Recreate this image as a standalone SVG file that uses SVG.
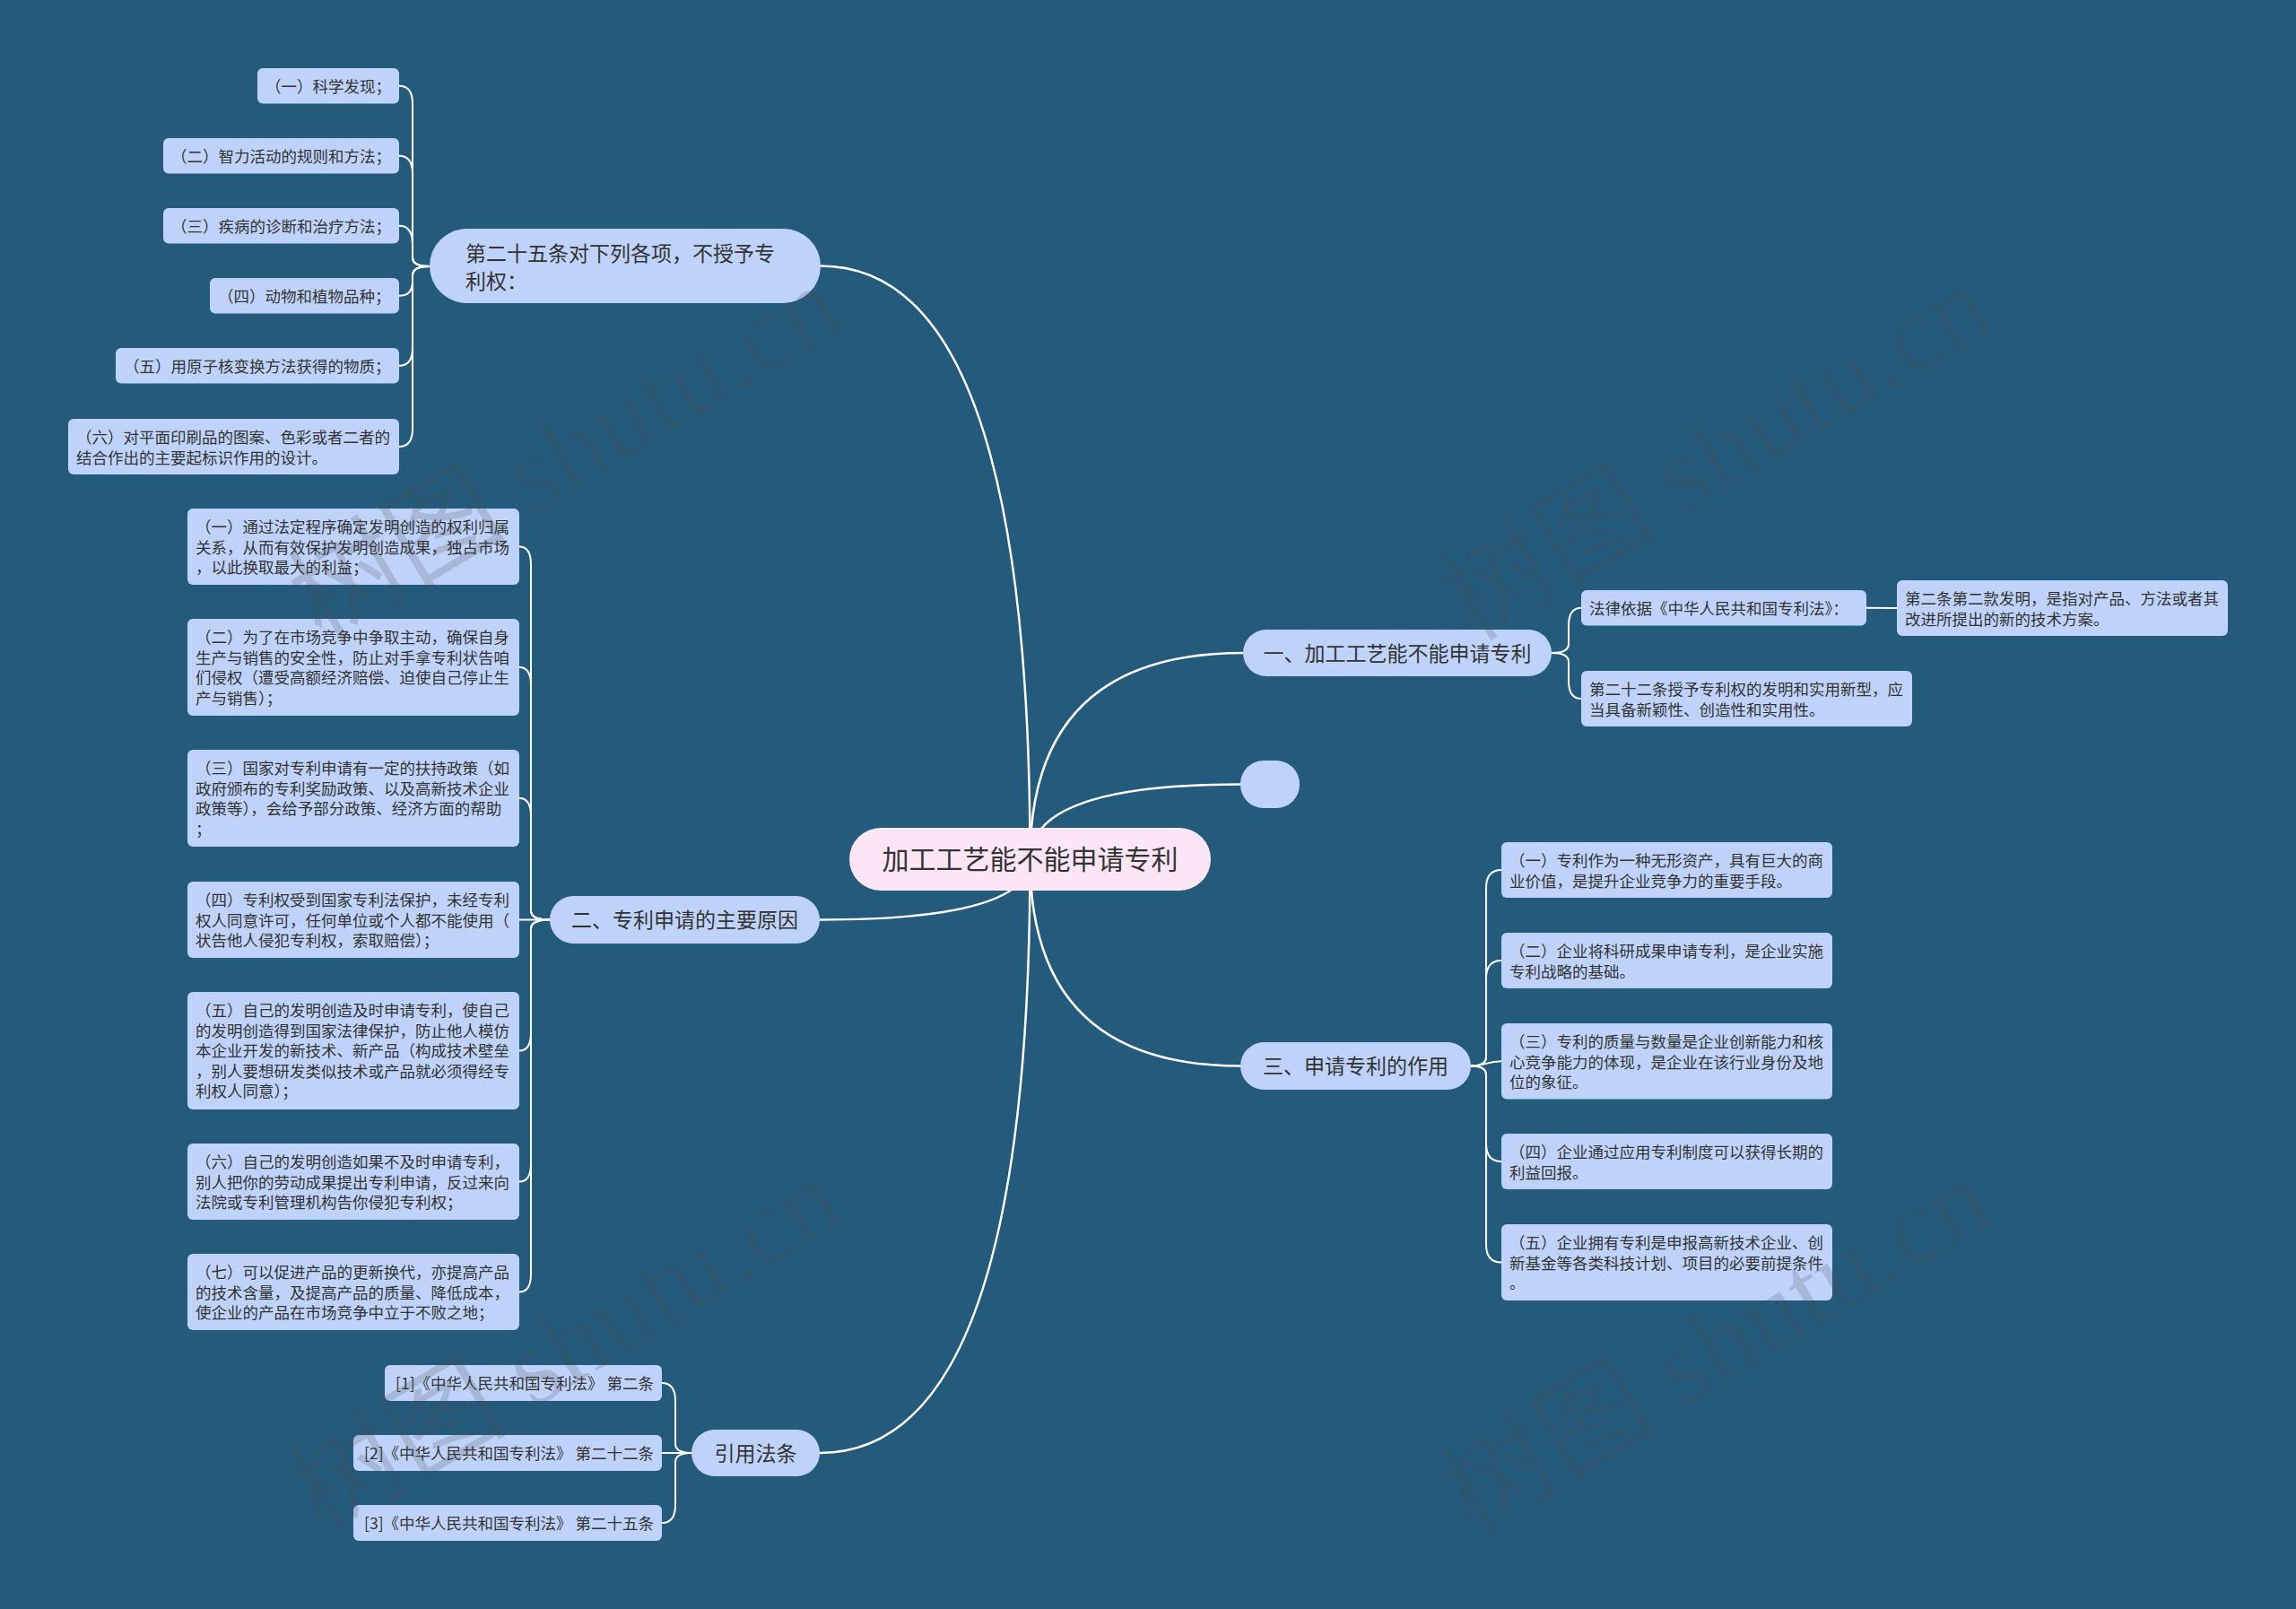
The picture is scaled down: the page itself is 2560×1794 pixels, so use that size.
<svg xmlns="http://www.w3.org/2000/svg" width="2560" height="1794" viewBox="0 0 2560 1794">
<style>
.bg{fill:#245a7c}
.n{fill:#bfd3fa}
.r{fill:#fce6f6}
.t{font-family:"Noto Sans CJK SC","Noto Sans",sans-serif;fill:#333}
.s{font-size:17.5px}
.m{font-size:23px}
.big{font-size:30px}
.e{fill:none;stroke:#fff;stroke-width:2}
.me{fill:none;stroke:#fff;stroke-width:2.5}
.wm{font-family:"Liberation Serif","Noto Sans CJK SC",serif;font-size:122px;fill:#4a4a4a;fill-opacity:0.2}
</style>
<rect class="bg" x="0" y="0" width="2560" height="1794"/>
<g id="connectors">
<path class="me" d="M1148.5,958 Q1148.5,296.5 915,296.5"/>
<path class="me" d="M1148.5,958 Q1148.5,1025.5 914,1025.5"/>
<path class="me" d="M1148.5,958 Q1148.5,1620 914,1620"/>
<path class="me" d="M1148.5,958 Q1148.5,728 1386,728"/>
<path class="me" d="M1148.5,958 Q1148.5,874.5 1383,874.5"/>
<path class="me" d="M1148.5,958 Q1148.5,1188.5 1383,1188.5"/>
<path class="e" d="M479,297 Q460,297 460,287 L460,115.75 Q460,95.75 445,95.75"/>
<path class="e" d="M479,297 Q460,297 460,287 L460,193.75 Q460,173.75 445,173.75"/>
<path class="e" d="M479,297 Q460,297 460,287 L460,271.75 Q460,251.75 445,251.75"/>
<path class="e" d="M479,297 Q460,297 460,307 L460,313.4 Q460,329.75 445,329.75"/>
<path class="e" d="M479,297 Q460,297 460,307 L460,387.75 Q460,407.75 445,407.75"/>
<path class="e" d="M479,297 Q460,297 460,307 L460,478 Q460,498 445,498"/>
<path class="e" d="M613,1025.5 Q592,1025.5 592,1015.5 L592,629.5 Q592,609.5 579,609.5"/>
<path class="e" d="M613,1025.5 Q592,1025.5 592,1015.5 L592,764 Q592,744 579,744"/>
<path class="e" d="M613,1025.5 Q592,1025.5 592,1015.5 L592,910 Q592,890 579,890"/>
<path class="e" d="M613,1025.5 L579,1025.5"/>
<path class="e" d="M613,1025.5 Q592,1025.5 592,1035.5 L592,1151.5 Q592,1171.5 579,1171.5"/>
<path class="e" d="M613,1025.5 Q592,1025.5 592,1035.5 L592,1297.5 Q592,1317.5 579,1317.5"/>
<path class="e" d="M613,1025.5 Q592,1025.5 592,1035.5 L592,1420.5 Q592,1440.5 579,1440.5"/>
<path class="e" d="M771,1620 Q753,1620 753,1610 L753,1562 Q753,1542 738,1542"/>
<path class="e" d="M771,1620 L738,1620"/>
<path class="e" d="M771,1620 Q753,1620 753,1630 L753,1678 Q753,1698 738,1698"/>
<path class="e" d="M1730,728 Q1749,728 1749,718 L1749,697.75 Q1749,677.75 1763,677.75"/>
<path class="e" d="M1730,728 Q1749,728 1749,738 L1749,759 Q1749,779 1763,779"/>
<path class="e" d="M2081,677.75 L2115,678"/>
<path class="e" d="M1640,1188.5 Q1657,1188.5 1657,1178.5 L1657,990 Q1657,970 1674,970"/>
<path class="e" d="M1640,1188.5 Q1657,1188.5 1657,1178.5 L1657,1091 Q1657,1071 1674,1071"/>
<path class="e" d="M1640,1188.5 C1657,1188.5 1657,1183.25 1674,1183.25"/>
<path class="e" d="M1640,1188.5 Q1657,1188.5 1657,1198.5 L1657,1275 Q1657,1295 1674,1295"/>
<path class="e" d="M1640,1188.5 Q1657,1188.5 1657,1198.5 L1657,1387.5 Q1657,1407.5 1674,1407.5"/>
</g>
<g id="root"><rect class="r" x="947" y="923" width="403" height="70" rx="35"/><text class="t big" x="1148.5" y="969.4" text-anchor="middle">加工工艺能不能申请专利</text></g>
<g id="nA"><rect class="n" x="479" y="255" width="436" height="83" rx="41.5"/><text class="t m" x="519" y="290.7">第二十五条对下列各项，不授予专<tspan x="519" y="321.7">利权：</tspan></text></g>
<g id="nA1"><rect class="n" x="287" y="76" width="158" height="39.5" rx="6"/><text class="t s" x="296" y="103.4">（一）科学发现；</text></g>
<g id="nA2"><rect class="n" x="182" y="154" width="263" height="39.5" rx="6"/><text class="t s" x="191" y="181.4">（二）智力活动的规则和方法；</text></g>
<g id="nA3"><rect class="n" x="182" y="232" width="263" height="39.5" rx="6"/><text class="t s" x="191" y="259.4">（三）疾病的诊断和治疗方法；</text></g>
<g id="nA4"><rect class="n" x="234" y="310" width="211" height="39.5" rx="6"/><text class="t s" x="243" y="337.4">（四）动物和植物品种；</text></g>
<g id="nA5"><rect class="n" x="129" y="388" width="316" height="39.5" rx="6"/><text class="t s" x="138" y="415.4">（五）用原子核变换方法获得的物质；</text></g>
<g id="nA6"><rect class="n" x="76" y="467" width="369" height="62" rx="6"/><text class="t s" x="85" y="494.4">（六）对平面印刷品的图案、色彩或者二者的<tspan x="85" y="516.9">结合作出的主要起标识作用的设计。</tspan></text></g>
<g id="nB"><rect class="n" x="613" y="999" width="301" height="53" rx="26.5"/><text class="t m" x="763.5" y="1034.2" text-anchor="middle">二、专利申请的主要原因</text></g>
<g id="nB1"><rect class="n" x="209" y="567" width="370" height="85" rx="6"/><text class="t s" x="218" y="594.4">（一）通过法定程序确定发明创造的权利归属<tspan x="218" y="616.9">关系，从而有效保护发明创造成果，独占市场</tspan><tspan x="218" y="639.4">，以此换取最大的利益；</tspan></text></g>
<g id="nB2"><rect class="n" x="209" y="690" width="370" height="108" rx="6"/><text class="t s" x="218" y="717.4">（二）为了在市场竞争中争取主动，确保自身<tspan x="218" y="739.9">生产与销售的安全性，防止对手拿专利状告咱</tspan><tspan x="218" y="762.4">们侵权（遭受高额经济赔偿、迫使自己停止生</tspan><tspan x="218" y="784.9">产与销售）；</tspan></text></g>
<g id="nB3"><rect class="n" x="209" y="836" width="370" height="108" rx="6"/><text class="t s" x="218" y="863.4">（三）国家对专利申请有一定的扶持政策（如<tspan x="218" y="885.9">政府颁布的专利奖励政策、以及高新技术企业</tspan><tspan x="218" y="908.4">政策等），会给予部分政策、经济方面的帮助</tspan><tspan x="218" y="930.9">；</tspan></text></g>
<g id="nB4"><rect class="n" x="209" y="983" width="370" height="85" rx="6"/><text class="t s" x="218" y="1010.4">（四）专利权受到国家专利法保护，未经专利<tspan x="218" y="1032.9">权人同意许可，任何单位或个人都不能使用（</tspan><tspan x="218" y="1055.4">状告他人侵犯专利权，索取赔偿）；</tspan></text></g>
<g id="nB5"><rect class="n" x="209" y="1106" width="370" height="131" rx="6"/><text class="t s" x="218" y="1133.4">（五）自己的发明创造及时申请专利，使自己<tspan x="218" y="1155.9">的发明创造得到国家法律保护，防止他人模仿</tspan><tspan x="218" y="1178.4">本企业开发的新技术、新产品（构成技术壁垒</tspan><tspan x="218" y="1200.9">，别人要想研发类似技术或产品就必须得经专</tspan><tspan x="218" y="1223.4">利权人同意）；</tspan></text></g>
<g id="nB6"><rect class="n" x="209" y="1275" width="370" height="85" rx="6"/><text class="t s" x="218" y="1302.4">（六）自己的发明创造如果不及时申请专利，<tspan x="218" y="1324.9">别人把你的劳动成果提出专利申请，反过来向</tspan><tspan x="218" y="1347.4">法院或专利管理机构告你侵犯专利权；</tspan></text></g>
<g id="nB7"><rect class="n" x="209" y="1398" width="370" height="85" rx="6"/><text class="t s" x="218" y="1425.4">（七）可以促进产品的更新换代，亦提高产品<tspan x="218" y="1447.9">的技术含量，及提高产品的质量、降低成本，</tspan><tspan x="218" y="1470.4">使企业的产品在市场竞争中立于不败之地；</tspan></text></g>
<g id="nC"><rect class="n" x="771" y="1594" width="143" height="52" rx="26"/><text class="t m" x="842.5" y="1628.7" text-anchor="middle">引用法条</text></g>
<g id="nC1"><rect class="n" x="429" y="1522" width="309" height="40" rx="6"/><text class="t s" x="729" y="1549" text-anchor="end">[1]《中华人民共和国专利法》 第二条</text></g>
<g id="nC2"><rect class="n" x="394" y="1600" width="344" height="40" rx="6"/><text class="t s" x="729" y="1627" text-anchor="end">[2]《中华人民共和国专利法》 第二十二条</text></g>
<g id="nC3"><rect class="n" x="394" y="1678" width="344" height="40" rx="6"/><text class="t s" x="729" y="1705" text-anchor="end">[3]《中华人民共和国专利法》 第二十五条</text></g>
<g id="nBlank"><rect class="n" x="1383" y="848" width="66" height="53" rx="26"/></g>
<g id="nD"><rect class="n" x="1386" y="702" width="344" height="52" rx="26"/><text class="t m" x="1558" y="736.7" text-anchor="middle">一、加工工艺能不能申请专利</text></g>
<g id="nD1"><rect class="n" x="1763" y="658" width="318" height="39.5" rx="6"/><text class="t s" x="1772" y="685.4">法律依据《中华人民共和国专利法》：</text></g>
<g id="nD11"><rect class="n" x="2115" y="647" width="369" height="62" rx="6"/><text class="t s" x="2124" y="674.4">第二条第二款发明，是指对产品、方法或者其<tspan x="2124" y="696.9">改进所提出的新的技术方案。</tspan></text></g>
<g id="nD2"><rect class="n" x="1763" y="748" width="369" height="62" rx="6"/><text class="t s" x="1772" y="775.4">第二十二条授予专利权的发明和实用新型，应<tspan x="1772" y="797.9">当具备新颖性、创造性和实用性。</tspan></text></g>
<g id="nE"><rect class="n" x="1383" y="1162" width="257" height="53" rx="26.5"/><text class="t m" x="1511.5" y="1197.2" text-anchor="middle">三、申请专利的作用</text></g>
<g id="nE1"><rect class="n" x="1674" y="939" width="369" height="62" rx="6"/><text class="t s" x="1683" y="966.4">（一）专利作为一种无形资产，具有巨大的商<tspan x="1683" y="988.9">业价值，是提升企业竞争力的重要手段。</tspan></text></g>
<g id="nE2"><rect class="n" x="1674" y="1040" width="369" height="62" rx="6"/><text class="t s" x="1683" y="1067.4">（二）企业将科研成果申请专利，是企业实施<tspan x="1683" y="1089.9">专利战略的基础。</tspan></text></g>
<g id="nE3"><rect class="n" x="1674" y="1141" width="369" height="84.5" rx="6"/><text class="t s" x="1683" y="1168.4">（三）专利的质量与数量是企业创新能力和核<tspan x="1683" y="1190.9">心竞争能力的体现，是企业在该行业身份及地</tspan><tspan x="1683" y="1213.4">位的象征。</tspan></text></g>
<g id="nE4"><rect class="n" x="1674" y="1264" width="369" height="62" rx="6"/><text class="t s" x="1683" y="1291.4">（四）企业通过应用专利制度可以获得长期的<tspan x="1683" y="1313.9">利益回报。</tspan></text></g>
<g id="nE5"><rect class="n" x="1674" y="1365" width="369" height="85" rx="6"/><text class="t s" x="1683" y="1392.4">（五）企业拥有专利是申报高新技术企业、创<tspan x="1683" y="1414.9">新基金等各类科技计划、项目的必要前提条件</tspan><tspan x="1683" y="1437.4">。</tspan></text></g>
<g id="watermarks">
<text class="wm" text-anchor="middle" transform="translate(652,540) rotate(-31)">树图 shutu.cn</text>
<text class="wm" text-anchor="middle" transform="translate(1934,540) rotate(-31)">树图 shutu.cn</text>
<text class="wm" text-anchor="middle" transform="translate(652,1536) rotate(-31)">树图 shutu.cn</text>
<text class="wm" text-anchor="middle" transform="translate(1934,1536) rotate(-31)">树图 shutu.cn</text>
</g>
</svg>
